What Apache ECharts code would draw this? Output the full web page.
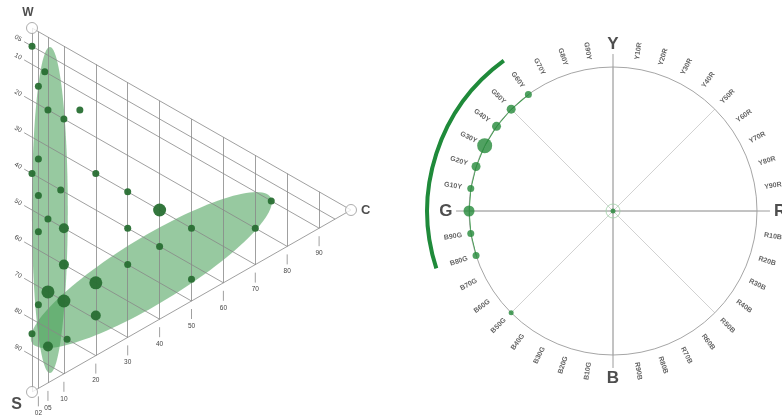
<!DOCTYPE html>
<html>
<head>
<meta charset="utf-8">
<script src="https://cdn.jsdelivr.net/npm/echarts@6/dist/echarts.min.js"></script>
<style>
  html, body { margin: 0; padding: 0; background: #fff; }
  #chart { width: 782px; height: 417px; }
</style>
</head>
<body>
<div id="chart"></div>
<script>
// ---- NCS colour triangle (c = chromaticness, s = blackness) ----
const cTicks = [2, 5, 10, 20, 30, 40, 50, 60, 70, 80, 90];
const cTickLabels = ['02', '05', '10', '20', '30', '40', '50', '60', '70', '80', '90'];
const sTicks = [5, 10, 20, 30, 40, 50, 60, 70, 80, 90];
const sTickLabels = ['05', '10', '20', '30', '40', '50', '60', '70', '80', '90'];

// samples: chromaticness, blackness, number of samples at that nuance
const sampleC = [0, 4, 2, 5, 10, 15, 2, 0, 20, 9, 2, 5, 2, 10, 30, 40, 30, 50, 40, 30, 50, 70, 75, 10, 20, 5, 2, 10, 20, 0, 11, 5];
const sampleS = [5, 10, 15, 20, 20, 15, 35, 40, 30, 40, 45, 50, 55, 50, 30, 30, 40, 30, 40, 50, 44, 20, 10, 60, 60, 70, 75, 70, 69, 84, 80, 85];
const sampleN = [1, 1, 1, 1, 1, 1, 1, 1, 1, 1, 1, 1, 1, 2, 1, 3, 1, 1, 1, 1, 1, 1, 1, 2, 3, 3, 1, 3, 2, 1, 1, 2];

// spread ellipses: major-axis end points (c1, s1, c2, s2) and minor/major ratio
const ellipseEnds = [[5.6, 2.4, 5.6, 92.0], [0, 86.5, 74.8, 9.1]];
const ellipseRatio = [0.11, 0.235];

// ---- NCS hue circle (Y = 0, R = 100, B = 200, G = 300) ----
const hueMain = ['Y', 'R', 'B', 'G'];
const hueSteps = [10, 20, 30, 40, 50, 60, 70, 80, 90];
const sampleHue = [250, 280, 290, 300, 310, 320, 330, 340, 350, 360];
const sampleHueN = [1, 2, 2, 4, 2, 3, 6, 3, 3, 2];
const hueArc = [280, 360];

const toXY = (c, s) => [c, s + c / 2];

const GREEN = '#286f33';
const GRID = '#888888';

// triangle grid segments
const gridSegs = [];
gridSegs.push({ coords: [toXY(0, 0), toXY(0, 100)] });
gridSegs.push({ coords: [toXY(0, 0), toXY(100, 0)] });
gridSegs.push({ coords: [toXY(0, 100), toXY(100, 0)] });
cTicks.forEach(c => gridSegs.push({ coords: [toXY(c, 0), toXY(c, 100 - c)] }));
sTicks.forEach(s => gridSegs.push({ coords: [toXY(0, s), toXY(100 - s, s)] }));

// hue step labels
const hueLabelData = [];
hueMain.forEach((m, k) => {
  const next = hueMain[(k + 1) % 4];
  hueSteps.forEach(st => {
    const h = k * 100 + st;
    const theta = h * 0.9;
    const rot = theta < 180 ? 90 - theta : 270 - theta;
    hueLabelData.push({ value: [112.5, h], name: m + st + next, label: { rotate: rot } });
  });
});

const arcPoints = sampleHue
  .filter(h => h >= hueArc[0] && h <= hueArc[1])
  .sort((a, b) => a - b)
  .map(h => [100, h]);

const txt = (text, x, y, font, fill, rotation) => ({
  type: 'text', x: x, y: y, rotation: rotation || 0,
  style: { text: text, font: font, fill: fill, align: 'center', verticalAlign: 'middle',
           textAlign: 'center', textVerticalAlign: 'middle' }
});

const chart = echarts.init(document.getElementById('chart'));
chart.setOption({
  animation: false,
  backgroundColor: '#fff',
  grid: { left: 32, top: 28, width: 319, height: 364 },
  xAxis: { type: 'value', min: 0, max: 100, show: false },
  yAxis: { type: 'value', min: 0, max: 100, inverse: true, show: false },
  polar: [
    { center: [613, 211], radius: 144 },
    { center: [613, 211], radius: 187.2 }
  ],
  angleAxis: [
    { polarIndex: 0, type: 'value', min: 0, max: 400, interval: 50, startAngle: 90, clockwise: true,
      axisLine: { lineStyle: { color: '#a6a6a6', width: 1 } },
      axisTick: { show: false }, axisLabel: { show: false },
      splitLine: { lineStyle: { color: '#d2d2d2', width: 1 } } },
    { polarIndex: 1, type: 'value', min: 0, max: 400, startAngle: 90, clockwise: true, show: false }
  ],
  radiusAxis: [
    { polarIndex: 0, type: 'value', min: 0, max: 100, show: false },
    { polarIndex: 1, type: 'value', min: 0, max: 130, show: false }
  ],
  series: [
    // spread ellipses
    {
      type: 'custom', coordinateSystem: 'cartesian2d', z: 1, clip: false,
      data: ellipseEnds.map((e, i) => [e[0], e[1], e[2], e[3], ellipseRatio[i]]),
      renderItem(params, api) {
        const p1 = api.coord(toXY(api.value(0), api.value(1)));
        const p2 = api.coord(toXY(api.value(2), api.value(3)));
        const cx = (p1[0] + p2[0]) / 2, cy = (p1[1] + p2[1]) / 2;
        const dx = p2[0] - p1[0], dy = p2[1] - p1[1];
        const a = Math.sqrt(dx * dx + dy * dy) / 2;
        const b = a * api.value(4);
        const ang = Math.atan2(dy, dx);
        const pts = [];
        for (let k = 0; k < 120; k++) {
          const t = k / 120 * Math.PI * 2;
          const ex = a * Math.cos(t), ey = b * Math.sin(t);
          pts.push([cx + ex * Math.cos(ang) - ey * Math.sin(ang), cy + ex * Math.sin(ang) + ey * Math.cos(ang)]);
        }
        return { type: 'polygon', shape: { points: pts }, style: { fill: 'rgba(66,156,82,0.55)' } };
      }
    },
    // grid lines
    {
      type: 'lines', coordinateSystem: 'cartesian2d', z: 2, data: gridSegs,
      lineStyle: { color: GRID, width: 0.8, opacity: 1 }, silent: true
    },
    // chromaticness ticks and labels
    {
      type: 'custom', coordinateSystem: 'cartesian2d', z: 2, clip: false,
      data: cTicks.map((c, i) => [c, 100 - c, i]),
      renderItem(params, api) {
        const c = api.value(0);
        const p = api.coord(toXY(c, 100 - c));
        return { type: 'group', children: [
          { type: 'line', shape: { x1: p[0], y1: p[1] + 8, x2: p[0], y2: p[1] + 18 },
            style: { stroke: GRID, lineWidth: 0.8 } },
          txt(cTickLabels[api.value(2)], p[0], p[1] + 25, '6.5px sans-serif', '#444')
        ] };
      }
    },
    // blackness ticks and labels
    {
      type: 'custom', coordinateSystem: 'cartesian2d', z: 2, clip: false,
      data: sTicks.map((s, i) => [0, s, i]),
      renderItem(params, api) {
        const s = api.value(1);
        const p = api.coord(toXY(0, s));
        const pw = api.coord([0, 0]), pc = api.coord([100, 50]);
        let ux = pc[0] - pw[0], uy = pc[1] - pw[1];
        const L = Math.sqrt(ux * ux + uy * uy); ux /= L; uy /= L;
        return { type: 'group', children: [
          { type: 'line', shape: { x1: p[0], y1: p[1], x2: p[0] - ux * 9, y2: p[1] - uy * 9 },
            style: { stroke: GRID, lineWidth: 0.8 } },
          txt(sTickLabels[api.value(2)], p[0] - ux * 16, p[1] - uy * 16, '6.5px sans-serif', '#444', -Math.atan2(uy, ux))
        ] };
      }
    },
    // samples in the triangle
    {
      type: 'scatter', coordinateSystem: 'cartesian2d', z: 4, clip: false,
      data: sampleC.map((c, i) => [...toXY(c, sampleS[i]), sampleN[i]]),
      symbolSize: v => 4 + 3 * v[2],
      itemStyle: { color: GREEN, opacity: 0.95 }
    },
    // corners W, S, C
    {
      type: 'scatter', coordinateSystem: 'cartesian2d', z: 5, clip: false,
      symbolSize: 11,
      itemStyle: { color: '#fff', borderColor: '#999', borderWidth: 1 },
      label: { show: true, formatter: '{b}', color: '#222', fontWeight: 'bold', fontFamily: 'Liberation Sans, Arial, sans-serif' },
      data: [
        { value: toXY(0, 0), name: 'W', label: { position: 'top', offset: [-4, 2], fontSize: 12 } },
        { value: toXY(0, 100), name: 'S', label: { position: 'left', offset: [1, 13], fontSize: 16 } },
        { value: toXY(100, 0), name: 'C', label: { position: 'right', offset: [-1, 0], fontSize: 13 } }
      ]
    },
    // main hue axes (Y–B, G–R)
    {
      type: 'line', coordinateSystem: 'polar', polarIndex: 1, z: 2, symbol: 'none', silent: true,
      data: [[109, 0], [0, 0], [109, 200]],
      lineStyle: { color: '#9c9c9c', width: 1 }
    },
    {
      type: 'line', coordinateSystem: 'polar', polarIndex: 1, z: 2, symbol: 'none', silent: true,
      data: [[109, 300], [0, 0], [109, 100]],
      lineStyle: { color: '#9c9c9c', width: 1 }
    },
    // hue step labels
    {
      type: 'scatter', coordinateSystem: 'polar', polarIndex: 1, z: 3, silent: true,
      symbolSize: 1, itemStyle: { color: 'rgba(0,0,0,0)' },
      label: { show: true, position: 'inside', formatter: '{b}', fontSize: 7, fontWeight: 'bold',
               color: '#3a3a3a', fontFamily: 'Liberation Sans, Arial, sans-serif' },
      data: hueLabelData
    },
    // elementary hues
    {
      type: 'scatter', coordinateSystem: 'polar', polarIndex: 1, z: 3, silent: true,
      symbolSize: 1, itemStyle: { color: 'rgba(0,0,0,0)' },
      label: { show: true, position: 'inside', formatter: '{b}', fontSize: 17, fontWeight: 'bold',
               color: '#222', fontFamily: 'Liberation Sans, Arial, sans-serif' },
      data: hueMain.map((m, k) => ({ value: [116, k * 100], name: m }))
    },
    // hue range arc
    {
      type: 'custom', coordinateSystem: 'polar', polarIndex: 1, z: 3,
      data: [[129, hueArc[0], hueArc[1]]],
      renderItem(params, api) {
        const c0 = api.coord([0, 0]);
        const p1 = api.coord([api.value(0), api.value(1)]);
        const p2 = api.coord([api.value(0), api.value(2)]);
        const r = Math.hypot(p1[0] - c0[0], p1[1] - c0[1]);
        return {
          type: 'arc',
          shape: { cx: c0[0], cy: c0[1], r: r,
                   startAngle: Math.atan2(p1[1] - c0[1], p1[0] - c0[0]),
                   endAngle: Math.atan2(p2[1] - c0[1], p2[0] - c0[0]), clockwise: true },
          style: { stroke: '#1f8a3a', lineWidth: 4, fill: null }
        };
      }
    },
    // circle segment covered by samples
    {
      type: 'line', coordinateSystem: 'polar', polarIndex: 0, z: 3, symbol: 'none', silent: true,
      data: arcPoints, lineStyle: { color: '#3f9c4d', width: 1.2 }
    },
    // hue samples
    {
      type: 'scatter', coordinateSystem: 'polar', polarIndex: 0, z: 4,
      data: sampleHue.map((h, i) => [100, h, sampleHueN[i]]),
      symbolSize: v => 3 + 2 * v[2],
      itemStyle: { color: '#24893a' }
    },
    // achromatic centre
    {
      type: 'scatter', coordinateSystem: 'polar', polarIndex: 0, z: 4,
      data: [[0, 0]], symbolSize: 14,
      itemStyle: { color: 'rgba(255,255,255,0)', borderColor: '#9fd1a6', borderWidth: 1 }
    },
    {
      type: 'scatter', coordinateSystem: 'polar', polarIndex: 0, z: 5,
      data: [[0, 0]], symbolSize: 5, itemStyle: { color: '#24893a' }
    }
  ]
});
</script>
</body>
</html>
